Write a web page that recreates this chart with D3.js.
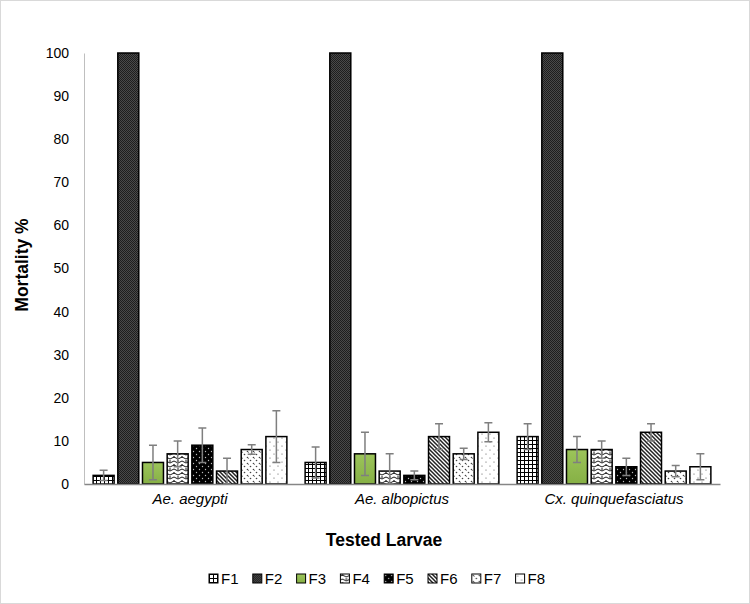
<!DOCTYPE html>
<html><head><meta charset="utf-8">
<script src="https://cdn.jsdelivr.net/npm/d3@7"></script>
<style>body{margin:0;background:#fff}svg{display:block;font-family:"Liberation Sans",Arial,sans-serif}</style>
</head><body>
<script>
const groups = ["Ae. aegypti", "Ae. albopictus", "Cx. quinquefasciatus"];
const series = ["F1","F2","F3","F4","F5","F6","F7","F8"];
const means = {
  "Ae. aegypti":          [2, 100, 5, 7, 9, 3, 8, 11],
  "Ae. albopictus":       [5, 100, 7, 3, 2, 11, 7, 12],
  "Cx. quinquefasciatus": [11, 100, 8, 8, 4, 12, 3, 4]
};
const errs = {
  "Ae. aegypti":          [1.2, 0, 4, 3, 4, 3, 1.1, 6],
  "Ae. albopictus":       [3.6, 0, 5, 4, 1, 3, 1.3, 2.2],
  "Cx. quinquefasciatus": [3, 0, 3, 2, 2, 2, 1.3, 3]
};
const yTicks = [0,10,20,30,40,50,60,70,80,90,100];

const W = 750, H = 604;
const m = {left:84, right:30, top:53, bottom:120};
const svg = d3.select("body").append("svg").attr("width",W).attr("height",H);

// patterns
const defs = svg.append("defs");
function pat(id, w, h, bg){ const p = defs.append("pattern").attr("id",id).attr("patternUnits","userSpaceOnUse").attr("width",w).attr("height",h);
  p.append("rect").attr("width",w).attr("height",h).attr("fill",bg); return p; }
let p;
p = pat("pF1",4,4,"#fff");
p.append("path").attr("d","M0,0.5H4M0.5,0V4").attr("stroke","#000").attr("stroke-width",1);
p = pat("pF2",2,2,"#4a4a4a");
p.append("rect").attr("width",1).attr("height",1).attr("fill","#1e1e1e");
p.append("rect").attr("x",1).attr("y",1).attr("width",1).attr("height",1).attr("fill","#1e1e1e");
const g3 = defs.append("linearGradient").attr("id","gF3").attr("x1",0).attr("y1",0).attr("x2",0).attr("y2",1);
g3.append("stop").attr("offset","0%").attr("stop-color","#9cc45a");
g3.append("stop").attr("offset","100%").attr("stop-color","#86b045");
p = pat("pF4",8,8,"#fff");
p.append("path").attr("d","M0,2 Q2,0 4,2 T8,2 M0,6 Q2,4 4,6 T8,6 M2,0 L2,2 M6,4 L6,6").attr("fill","none").attr("stroke","#000").attr("stroke-width",0.9);
p = pat("pF5",6,6,"#000");
p.append("circle").attr("cx",1.5).attr("cy",1.5).attr("r",0.7).attr("fill","#bbb");
p.append("circle").attr("cx",4.5).attr("cy",4.5).attr("r",0.7).attr("fill","#bbb");
p = pat("pF6",4,4,"#fff");
p.append("path").attr("d","M-1,-1L5,5M-1,3L1,5M3,-1L5,1").attr("stroke","#222").attr("stroke-width",1.5);
p = pat("pF7",6,6,"#fff");
p.append("circle").attr("cx",1.5).attr("cy",1.5).attr("r",0.8).attr("fill","#444");
p.append("circle").attr("cx",4.5).attr("cy",4.5).attr("r",0.8).attr("fill","#444");
p.append("circle").attr("cx",2.5).attr("cy",2.5).attr("r",0.5).attr("fill","#777");
p = pat("pF8",8,8,"#fff");
p.append("circle").attr("cx",2).attr("cy",2).attr("r",0.6).attr("fill","#555");
p.append("circle").attr("cx",6).attr("cy",6).attr("r",0.6).attr("fill","#555");
const fills = {F1:"url(#pF1)",F2:"url(#pF2)",F3:"url(#gF3)",F4:"url(#pF4)",F5:"url(#pF5)",F6:"url(#pF6)",F7:"url(#pF7)",F8:"url(#pF8)"};

// border
svg.append("rect").attr("x",0.5).attr("y",0.5).attr("width",W-1).attr("height",H-1).attr("fill","none").attr("stroke","#d9d9d9");

const x0 = d3.scaleBand().domain(groups).range([m.left, 720]).padding(0);
const x1 = d3.scaleBand().domain(series).range([0, x0.bandwidth()]).paddingInner(0.15).paddingOuter(0.37);
const y = d3.scaleLinear().domain([0,100]).range([484, 53]);

// y axis
const yAx = svg.append("g").attr("transform",`translate(${m.left},0)`).call(d3.axisLeft(y).tickValues(yTicks).tickSize(0).tickPadding(15));
yAx.select(".domain").attr("stroke","#bfbfbf");
yAx.selectAll("text").attr("font-size",14).attr("fill","#000");

// bars
const gg = svg.selectAll("g.grp").data(groups).join("g").attr("class","grp").attr("transform",d=>`translate(${x0(d)},0)`);
gg.each(function(g){
  const sel = d3.select(this);
  const data = series.map((s,i)=>({s, v:means[g][i], e:errs[g][i]}));
  sel.selectAll("rect").data(data).join("rect")
    .attr("x",d=>x1(d.s)).attr("width",x1.bandwidth())
    .attr("y",d=>y(d.v)).attr("height",d=>y(0)-y(d.v))
    .attr("fill",d=>fills[d.s]).attr("stroke","#000").attr("stroke-width",1.5);
  const eb = data.filter(d=>d.e>0);
  const cx = d=>x1(d.s)+x1.bandwidth()/2;
  sel.selectAll("path.err").data(eb).join("path").attr("class","err")
    .attr("d",d=>`M${cx(d)},${y(d.v+d.e)}V${y(Math.max(0,d.v-d.e))}M${cx(d)-4},${y(d.v+d.e)}H${cx(d)+4}M${cx(d)-4},${y(Math.max(0,d.v-d.e))}H${cx(d)+4}`)
    .attr("stroke","#7f7f7f").attr("stroke-width",1.5).attr("fill","none");
});

// x axis
const xAx = svg.append("g").attr("transform",`translate(0,484)`).call(d3.axisBottom(x0).tickSize(0).tickPadding(9));
xAx.select(".domain").attr("stroke","#868686").attr("stroke-width",1.5);
xAx.selectAll("text").attr("font-size",15).attr("font-style","italic").attr("fill","#000");

// titles
svg.append("text").attr("x",384).attr("y",546).attr("text-anchor","middle").attr("font-size",17.5).attr("font-weight","bold").text("Tested Larvae");
svg.append("text").attr("transform","translate(28,265) rotate(-90)").attr("text-anchor","middle").attr("font-size",17.5).attr("font-weight","bold").text("Mortality %");

// legend
const lg = svg.append("g").attr("transform","translate(209,574)");
const li = lg.selectAll("g").data(series).join("g").attr("transform",(d,i)=>`translate(${i*43.8},0)`);
li.append("rect").attr("width",9).attr("height",9).attr("fill",d=>fills[d]).attr("stroke","#000").attr("stroke-width",1);
li.append("text").attr("x",12).attr("y",10).attr("font-size",15).text(d=>d);
</script>
</body></html>
